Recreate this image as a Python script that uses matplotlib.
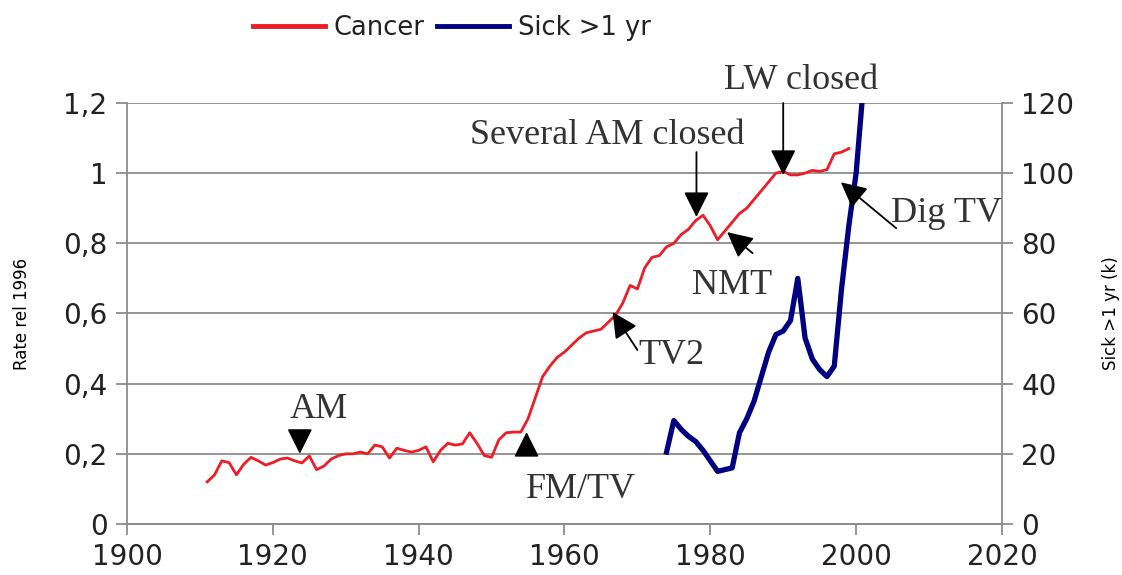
import numpy as np
import matplotlib.pyplot as plt

# cancer rate relative to 1996, yearly
cancer_years = np.arange(1911, 2000)
cancer_rate = [0.12, 0.14, 0.18, 0.175, 0.14, 0.17, 0.19, 0.18, 0.168, 0.175,
               0.185, 0.188, 0.18, 0.174, 0.194, 0.155, 0.165, 0.185, 0.195, 0.2,
               0.2, 0.205, 0.2, 0.225, 0.22, 0.188, 0.216, 0.21, 0.205, 0.21,
               0.22, 0.177, 0.21, 0.23, 0.225, 0.228, 0.26, 0.23, 0.195, 0.19,
               0.24, 0.26, 0.262, 0.262, 0.3, 0.36, 0.42, 0.45, 0.475, 0.49,
               0.51, 0.53, 0.545, 0.55, 0.555, 0.575, 0.595, 0.63, 0.68, 0.67,
               0.73, 0.76, 0.765, 0.79, 0.8, 0.825, 0.84, 0.865, 0.88, 0.85,
               0.81, 0.835, 0.86, 0.885, 0.9, 0.925, 0.95, 0.975, 1.0, 1.005,
               0.995, 0.995, 1.0, 1.008, 1.005, 1.01, 1.055, 1.06, 1.07]

# sick more than one year (thousands)
sick_years = np.arange(1974, 2002)
sick_k = [20.5, 29.5, 27, 25, 23.5, 21, 18, 15, 15.5, 16,
          26, 30, 35, 42, 49, 54, 55, 58, 70, 53,
          47, 44, 42, 45, 67, 85, 100, 125]

left_ticks = [0, 0.2, 0.4, 0.6, 0.8, 1.0, 1.2]
left_labels = ["0", "0,2", "0,4", "0,6", "0,8", "1", "1,2"]
right_ticks = [0, 20, 40, 60, 80, 100, 120]
x_ticks = [1900, 1920, 1940, 1960, 1980, 2000, 2020]

# (label, text x, text y)
labels = [("AM", 1926.3, 0.325), ("FM/TV", 1962.2, 0.097), ("TV2", 1974.7, 0.479),
          ("NMT", 1983.0, 0.681), ("Several AM closed", 1965.9, 1.108),
          ("LW closed", 1992.5, 1.265), ("Dig TV", 2012.4, 0.886)]
# (tip x, tip y, tail x, tail y)
arrows = [(1923.7, 0.2, 1923.7, 0.26), (1954.8, 0.262, 1954.8, 0.197),
          (1966.6, 0.604, 1970.0, 0.496), (1982.3, 0.832, 1985.8, 0.772),
          (1978.1, 0.875, 1978.1, 1.06), (1990.0, 0.995, 1990.0, 1.2),
          (1997.9, 0.974, 2005.5, 0.843)]

fig = plt.figure(figsize=(11.22, 5.75), dpi=100)
ax = fig.add_axes([0.1132, 0.0887, 0.7798, 0.7322])
ax2 = ax.twinx()

ax.plot(cancer_years, cancer_rate, color="#ee1c24", lw=2, label="Cancer", zorder=3)
ax2.plot(sick_years, sick_k, color="#000080", lw=3.8, label="Sick >1 yr", zorder=3)

ax.set_xlim(1900, 2020)
ax.set_ylim(0, 1.2)
ax2.set_ylim(0, 120)
ax.set_xticks(x_ticks)
ax.set_yticks(left_ticks)
ax.set_yticklabels(left_labels)
ax2.set_yticks(right_ticks)

ax.yaxis.grid(True, color="#8c8c8c", lw=1.3)
ax.set_axisbelow(True)

for a in (ax, ax2):
    a.spines["top"].set_visible(False)
    for s in ("left", "right", "bottom"):
        a.spines[s].set_color("#8c8c8c")
        a.spines[s].set_linewidth(1.3)
    a.tick_params(axis="both", direction="out", length=8, width=1.3, color="#8c8c8c",
                  labelsize=20, labelcolor="#222222", pad=6)
ax2.spines["left"].set_visible(False)
ax.spines["right"].set_visible(False)

ax.set_ylabel("Rate rel 1996", fontsize=12, labelpad=23)
ax2.set_ylabel("Sick >1 yr (k)", fontsize=12, labelpad=20)

for txt, tx, ty in labels:
    ax2.text(tx, ty * 100, txt, ha="center", va="center", fontsize=26,
             family="Liberation Serif", color="#333333", clip_on=False, zorder=5)

for x1, y1, x0, y0 in arrows:
    ax2.annotate("", xy=(x1, y1 * 100), xytext=(x0, y0 * 100),
                 arrowprops=dict(arrowstyle="-|>,head_length=0.6,head_width=0.3",
                                 color="black", lw=1.3, mutation_scale=26,
                                 shrinkA=0, shrinkB=0),
                 annotation_clip=False, zorder=6)

h1, l1 = ax.get_legend_handles_labels()
h2, l2 = ax2.get_legend_handles_labels()
leg = fig.legend(h1 + h2, l1 + l2, loc="center", bbox_to_anchor=(452 / 1122, 1 - 28 / 575),
                 ncol=2, frameon=False, fontsize=18.5, handlelength=2.8,
                 handletextpad=0.35, columnspacing=0.5)
for line in leg.get_lines():
    line.set_linewidth(3.5)
for t in leg.get_texts():
    t.set_color("#222222")

fig.savefig("out.png", dpi=100)
